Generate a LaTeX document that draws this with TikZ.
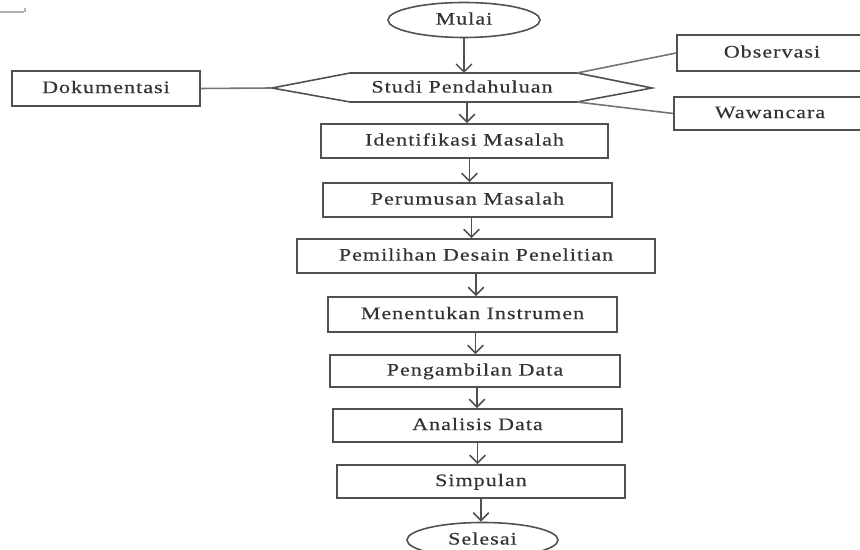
\documentclass[tikz,border=0pt]{standalone}
\usepackage{fontspec}
\setmainfont{Liberation Serif}[FakeStretch=1.25,LetterSpace=6,FakeBold=0.4]
\usetikzlibrary{arrows.meta,shapes.geometric}
\definecolor{ln}{HTML}{505050}
\tikzset{
  txt/.style={font=\fontsize{10}{12}\selectfont,text=black!80,text height=6.8pt,text depth=1.6pt},
  box/.style={txt,draw=ln,line width=0.9pt,minimum height=34*0.02cm,inner sep=0pt},
  term/.style={txt,draw=ln,line width=0.9pt,ellipse,minimum width=152*0.02cm,minimum height=35*0.02cm,inner sep=0pt},
  lbl/.style={txt,inner sep=0pt},
  arr/.style={draw=ln,line width=0.9pt,-{Straight Barb[length=4.5pt,width=9pt,line width=0.9pt]}},
  link/.style={draw=ln!80,line width=0.9pt}
}
\begin{document}
\begin{tikzpicture}[x=0.02cm,y=-0.02cm]
\useasboundingbox (0,0) rectangle (860,550);
\clip (0,0) rectangle (860,550);
% small artefact mark
\draw[gray!60,line width=0.6pt] (0,12) -- (24,12) (25,8) -- (25,12);
% terminals
\node[term] (mulai) at (464,20) {Mulai};
\node[term,minimum width=151*0.02cm] (selesai) at (482.5,540) {Selesai};
% hexagon
\coordinate (hL) at (272,88);
\coordinate (hTL) at (350,73);
\coordinate (hTR) at (577,73);
\coordinate (hR) at (652,88);
\coordinate (hBR) at (577,102);
\coordinate (hBL) at (350,102);
\coordinate (hB) at (467,102);
\draw[draw=ln,line width=0.9pt] (hL) -- (hTL) -- (hTR) -- (hR) -- (hBR) -- (hBL) -- cycle;
\node[lbl] (studi) at (462,88) {Studi Pendahuluan};
% side boxes
\node[box,minimum width=188*0.02cm,minimum height=35*0.02cm] (dok) at (106,88.5) {Dokumentasi};
\node[box,minimum width=190*0.02cm,minimum height=36*0.02cm] (obs) at (772,53) {Observasi};
\node[box,minimum width=192*0.02cm,minimum height=33*0.02cm] (waw) at (770,113.5) {Wawancara};
% main boxes
\node[box,minimum width=287*0.02cm] (ident) at (464.5,141) {Identifikasi Masalah};
\node[box,minimum width=289*0.02cm] (rumus) at (467.5,200) {Perumusan Masalah};
\node[box,minimum width=358*0.02cm] (desain) at (476,256) {Pemilihan Desain Penelitian};
\node[box,minimum width=289*0.02cm,minimum height=35*0.02cm] (instr) at (472.5,314.5) {Menentukan Instrumen};
\node[box,minimum width=290*0.02cm,minimum height=32*0.02cm] (ambil) at (475,371) {Pengambilan Data};
\node[box,minimum width=289*0.02cm,minimum height=33*0.02cm] (anal) at (477.5,425.5) {Analisis Data};
\node[box,minimum width=288*0.02cm,minimum height=33*0.02cm] (simp) at (481,481.5) {Simpulan};
% links
\draw[link] (dok.east) -- (hL);
\draw[link] (hTR) -- (obs.west);
\draw[link] (hBR) -- (waw.west);
% arrows
\draw[arr] (mulai.south) -- (mulai.south |- hTL);
\draw[arr] (hB) -- (hB |- ident.north);
\draw[arr] ([xshift=5*0.02cm]ident.south) -- ([xshift=5*0.02cm]ident.south |- rumus.north);
\draw[arr] ([xshift=4*0.02cm]rumus.south) -- ([xshift=4*0.02cm]rumus.south |- desain.north);
\draw[arr] (desain.south) -- (desain.south |- instr.north);
\draw[arr] ([xshift=3*0.02cm]instr.south) -- ([xshift=3*0.02cm]instr.south |- ambil.north);
\draw[arr] ([xshift=2*0.02cm]ambil.south) -- ([xshift=2*0.02cm]ambil.south |- anal.north);
\draw[arr] (anal.south) -- (anal.south |- simp.north);
\draw[arr] (simp.south) -- (simp.south |- selesai.north);
\end{tikzpicture}
\end{document}
